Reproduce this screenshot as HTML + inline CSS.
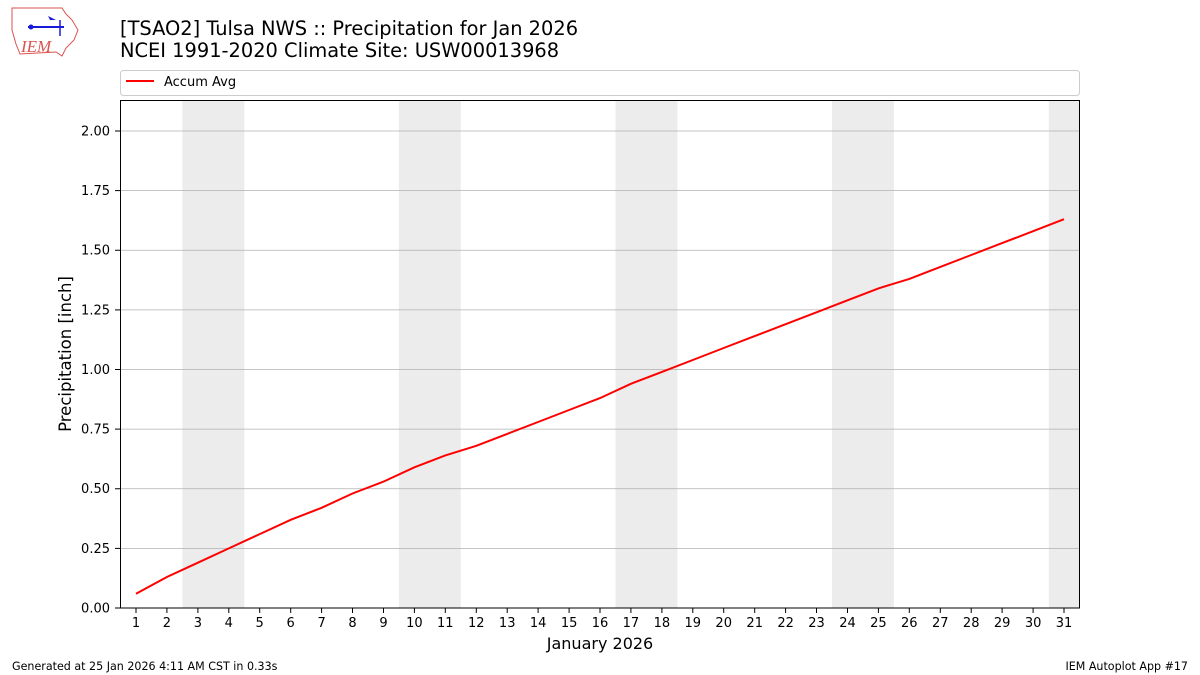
<!DOCTYPE html>
<html><head><meta charset="utf-8"><style>
html,body{margin:0;padding:0;background:#fff;}
svg{display:block;font-family:"DejaVu Sans","Liberation Sans",sans-serif;}
</style></head><body>
<svg width="1200" height="675" viewBox="0 0 1200 675" xmlns="http://www.w3.org/2000/svg">
<rect width="1200" height="675" fill="#fff"/>
<g>
<path d="M12 8 L62 8 L66 14 L72 20 L78 30 L74 40 L66 48 L62 56 L56 52 L20 54 L16 44 L12 30 Z" fill="#fff" stroke="#d9534f" stroke-width="1"/>
<line x1="28" y1="27" x2="64" y2="27" stroke="#1a1adb" stroke-width="2"/>
<line x1="60" y1="20" x2="60" y2="36" stroke="#1a1adb" stroke-width="1.5"/>
<circle cx="31" cy="27" r="2.5" fill="#1a1adb"/>
<path d="M48 16 L56 20 L50 20 Z" fill="#1a1adb"/>
<text x="21" y="52" font-family="Liberation Serif,serif" font-style="italic" font-size="17" fill="#d9534f">IEM</text>
</g>
<text x="120" y="35" font-size="19.4" fill="#000">[TSAO2] Tulsa NWS :: Precipitation for Jan 2026</text>
<text x="120" y="57" font-size="19.4" fill="#000">NCEI 1991-2020 Climate Site: USW00013968</text>
<rect x="120.5" y="70.5" width="959" height="25" rx="3" fill="#fff" stroke="#ccc"/>
<line x1="126" y1="81" x2="154" y2="81" stroke="red" stroke-width="2"/>
<text x="164" y="86" font-size="13">Accum Avg</text>
<g fill="#ececec">
<rect x="182.4" y="100" width="61.9" height="508"/>
<rect x="398.9" y="100" width="61.9" height="508"/>
<rect x="615.5" y="100" width="61.9" height="508"/>
<rect x="832" y="100" width="61.9" height="508"/>
<rect x="1048.8" y="100" width="31.2" height="508"/>
</g>
<g stroke="#b0b0b0" stroke-width="0.8">
<line x1="120" x2="1080" y1="548.4" y2="548.4"/>
<line x1="120" x2="1080" y1="488.75" y2="488.75"/>
<line x1="120" x2="1080" y1="429.1" y2="429.1"/>
<line x1="120" x2="1080" y1="369.5" y2="369.5"/>
<line x1="120" x2="1080" y1="309.9" y2="309.9"/>
<line x1="120" x2="1080" y1="250.25" y2="250.25"/>
<line x1="120" x2="1080" y1="190.6" y2="190.6"/>
<line x1="120" x2="1080" y1="131" y2="131"/>
</g>
<polyline fill="none" stroke="red" stroke-width="2" points="136,593.7 166.9,577 197.9,562.7 228.8,548.4 259.7,534.1 290.7,519.8 321.6,507.8 352.5,493.5 383.5,481.6 414.4,467.3 445.3,455.4 476.3,445.8 507.2,433.9 538.1,422 569.1,410 600,398.1 630.9,383.8 661.9,371.9 692.8,360 723.7,348 754.7,336.1 785.6,324.2 816.5,312.3 847.5,300.3 878.4,288.4 909.3,278.9 940.3,266.9 971.2,255 1002.1,243.1 1033.1,231.2 1064,219.2"/>
<rect x="120.5" y="100.5" width="959" height="507.5" fill="none" stroke="#000" stroke-width="1"/>
<g stroke="#000" stroke-width="1">
<line x1="115" x2="120" y1="608" y2="608"/><line x1="115" x2="120" y1="548.4" y2="548.4"/><line x1="115" x2="120" y1="488.75" y2="488.75"/><line x1="115" x2="120" y1="429.1" y2="429.1"/><line x1="115" x2="120" y1="369.5" y2="369.5"/><line x1="115" x2="120" y1="309.9" y2="309.9"/><line x1="115" x2="120" y1="250.25" y2="250.25"/><line x1="115" x2="120" y1="190.6" y2="190.6"/><line x1="115" x2="120" y1="131" y2="131"/>
</g>
<g font-size="13" text-anchor="end">
<text x="110" y="612.5">0.00</text><text x="110" y="553">0.25</text><text x="110" y="493">0.50</text><text x="110" y="433.5">0.75</text><text x="110" y="374">1.00</text><text x="110" y="314.5">1.25</text><text x="110" y="254.5">1.50</text><text x="110" y="195">1.75</text><text x="110" y="135.5">2.00</text>
</g>
<text transform="translate(71,354) rotate(-90)" font-size="16.5" text-anchor="middle">Precipitation [inch]</text>
<g stroke="#000" stroke-width="1">
<line x1="136" x2="136" y1="608" y2="613"/><line x1="166.9" x2="166.9" y1="608" y2="613"/><line x1="197.9" x2="197.9" y1="608" y2="613"/><line x1="228.8" x2="228.8" y1="608" y2="613"/><line x1="259.7" x2="259.7" y1="608" y2="613"/><line x1="290.7" x2="290.7" y1="608" y2="613"/><line x1="321.6" x2="321.6" y1="608" y2="613"/><line x1="352.5" x2="352.5" y1="608" y2="613"/><line x1="383.5" x2="383.5" y1="608" y2="613"/><line x1="414.4" x2="414.4" y1="608" y2="613"/><line x1="445.3" x2="445.3" y1="608" y2="613"/><line x1="476.3" x2="476.3" y1="608" y2="613"/><line x1="507.2" x2="507.2" y1="608" y2="613"/><line x1="538.1" x2="538.1" y1="608" y2="613"/><line x1="569.1" x2="569.1" y1="608" y2="613"/><line x1="600" x2="600" y1="608" y2="613"/><line x1="630.9" x2="630.9" y1="608" y2="613"/><line x1="661.9" x2="661.9" y1="608" y2="613"/><line x1="692.8" x2="692.8" y1="608" y2="613"/><line x1="723.7" x2="723.7" y1="608" y2="613"/><line x1="754.7" x2="754.7" y1="608" y2="613"/><line x1="785.6" x2="785.6" y1="608" y2="613"/><line x1="816.5" x2="816.5" y1="608" y2="613"/><line x1="847.5" x2="847.5" y1="608" y2="613"/><line x1="878.4" x2="878.4" y1="608" y2="613"/><line x1="909.3" x2="909.3" y1="608" y2="613"/><line x1="940.3" x2="940.3" y1="608" y2="613"/><line x1="971.2" x2="971.2" y1="608" y2="613"/><line x1="1002.1" x2="1002.1" y1="608" y2="613"/><line x1="1033.1" x2="1033.1" y1="608" y2="613"/><line x1="1064" x2="1064" y1="608" y2="613"/>
</g>
<g font-size="13" text-anchor="middle">
<text x="136" y="627">1</text><text x="166.9" y="627">2</text><text x="197.9" y="627">3</text><text x="228.8" y="627">4</text><text x="259.7" y="627">5</text><text x="290.7" y="627">6</text><text x="321.6" y="627">7</text><text x="352.5" y="627">8</text><text x="383.5" y="627">9</text><text x="414.4" y="627">10</text><text x="445.3" y="627">11</text><text x="476.3" y="627">12</text><text x="507.2" y="627">13</text><text x="538.1" y="627">14</text><text x="569.1" y="627">15</text><text x="600" y="627">16</text><text x="630.9" y="627">17</text><text x="661.9" y="627">18</text><text x="692.8" y="627">19</text><text x="723.7" y="627">20</text><text x="754.7" y="627">21</text><text x="785.6" y="627">22</text><text x="816.5" y="627">23</text><text x="847.5" y="627">24</text><text x="878.4" y="627">25</text><text x="909.3" y="627">26</text><text x="940.3" y="627">27</text><text x="971.2" y="627">28</text><text x="1002.1" y="627">29</text><text x="1033.1" y="627">30</text><text x="1064" y="627">31</text>
</g>
<text x="600" y="649" font-size="16" text-anchor="middle">January 2026</text>
<text x="12" y="670" font-size="11.1">Generated at 25 Jan 2026 4:11 AM CST in 0.33s</text>
<text x="1188" y="670" font-size="11.1" text-anchor="end">IEM Autoplot App #17</text>
</svg>
</body></html>
